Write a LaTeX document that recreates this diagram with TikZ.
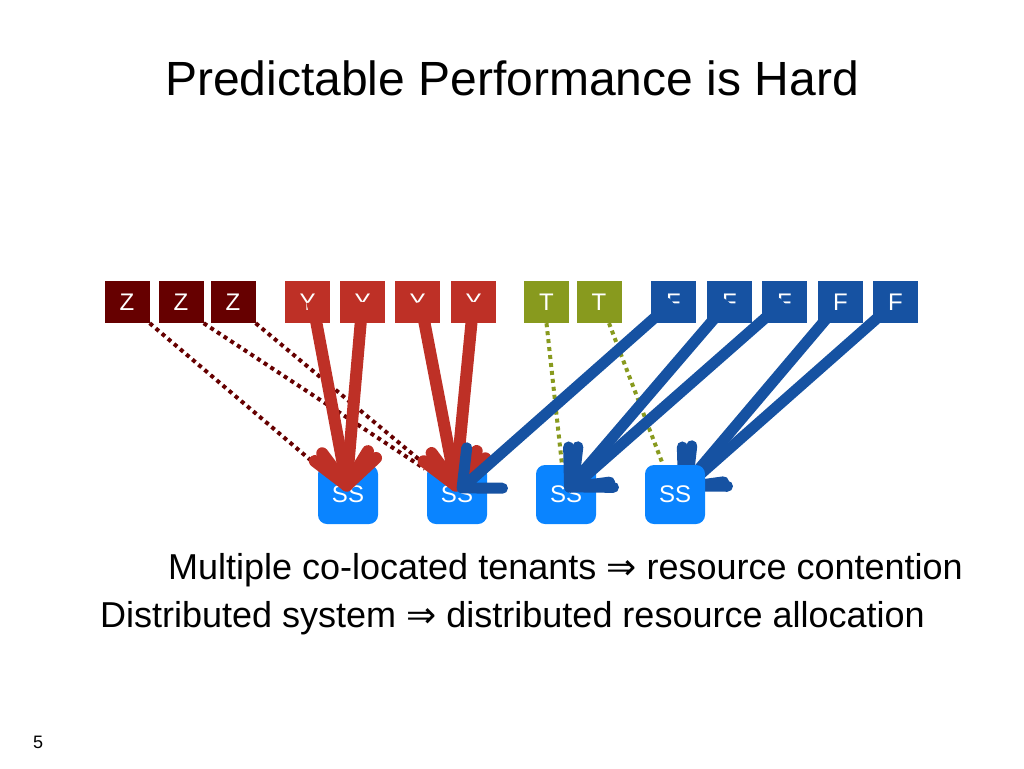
\documentclass[tikz,border=0pt]{standalone}
\usepackage{fontspec}
\setmainfont{Liberation Sans}
\newfontfamily\symf{DejaVu Sans}
\usetikzlibrary{arrows.meta}
\definecolor{zcol}{RGB}{102,0,0}
\definecolor{ycol}{RGB}{190,48,38}
\definecolor{tcol}{RGB}{136,154,30}
\definecolor{fcol}{RGB}{22,82,162}
\definecolor{sscol}{RGB}{10,132,255}
\pgfdeclarelayer{back}
\pgfsetlayers{back,main}
\begin{document}
\begin{tikzpicture}[x=1pt,y=-1pt,
  tenant/.style={minimum width=45pt,minimum height=42pt,inner sep=0pt,text=white,
    font=\fontsize{24}{24}\selectfont},
  server/.style={fill=sscol,rounded corners=9pt,minimum width=60pt,minimum height=59pt,
    inner sep=0pt,text=white,font=\fontsize{24}{24}\selectfont},
  fat/.style={line width=#1,-{Straight Barb[length=30pt,width=54pt,round]}},
  dots/.style={line width=4pt,dash pattern=on 4pt off 4pt},
  bullet/.style={anchor=base west,inner sep=0pt,font=\fontsize{36}{40}\selectfont}]
  \useasboundingbox (0,0) rectangle (1024,768);

  % Title
  \node (title) at (512,78) {\fontsize{48}{58}\selectfont Predictable Performance is Hard};

  % Tenants
  \node[tenant,fill=zcol] (z1) at (127,302) {Z};
  \node[tenant,fill=zcol] (z2) at (181,302) {Z};
  \node[tenant,fill=zcol] (z3) at (233,302) {Z};
  \node[tenant,fill=ycol] (y1) at (307.5,302) {Y};
  \node[tenant,fill=ycol] (y2) at (362.5,302) {Y};
  \node[tenant,fill=ycol] (y3) at (417.5,302) {Y};
  \node[tenant,fill=ycol] (y4) at (473.5,302) {Y};
  \node[tenant,fill=tcol] (t1) at (546.5,302) {T};
  \node[tenant,fill=tcol] (t2) at (599,302) {T};
  \node[tenant,fill=fcol] (f1) at (673.5,302) {F};
  \node[tenant,fill=fcol] (f2) at (729.5,302) {F};
  \node[tenant,fill=fcol] (f3) at (784.5,302) {F};
  \node[tenant,fill=fcol] (f4) at (840.5,302) {F};
  \node[tenant,fill=fcol] (f5) at (895.5,302) {F};

  % Storage servers
  \node[server] (ss1) at (348,494.5) {SS};
  \node[server] (ss2) at (457,494.5) {SS};
  \node[server] (ss3) at (566,494.5) {SS};
  \node[server] (ss4) at (675,494.5) {SS};

  % Light tenants (dotted)
  \draw[dots,zcol] (z1.south east) -- ([shift={(3,4)}]ss1.north west);
  \draw[dots,zcol] (z2.south east) -- ([shift={(-2,4)}]ss2.north west);
  \draw[dots,zcol] (z3.south east) -- ([shift={(1,2)}]ss2.north west);
  \draw[dots,tcol] (t1.south) -- ([shift={(-4,0)}]ss3.north);
  \draw[dots,tcol] ([xshift=10pt]t2.south) -- ([shift={(-12,0)}]ss4.north);

  % Heavy tenants
  \draw[fat=12pt,ycol] ([shift={(5,0)}]y1.center) -- ([shift={(0,-3)}]ss1.center);
  \draw[fat=12pt,ycol] ([shift={(0,0)}]y2.center) -- ([shift={(-2,-3)}]ss1.center);
  \draw[fat=12pt,ycol] ([shift={(3,0)}]y3.center) -- ([shift={(0,-3)}]ss2.center);
  \draw[fat=12pt,ycol] ([shift={(0,0)}]y4.center) -- ([shift={(-2,-3)}]ss2.center);
  \draw[fat=11pt,fcol] ([shift={(-1,0)}]f1.center) -- ([shift={(1,-3)}]ss2.center);
  \draw[fat=11pt,fcol] ([shift={(-1,0)}]f2.center) -- ([shift={(0,-3)}]ss3.center);
  \draw[fat=11pt,fcol] ([shift={(-1,0)}]f3.center) -- ([shift={(3,-4)}]ss3.center);
  \begin{pgfonlayer}{back}
    \draw[fat=11pt,fcol] (f4.center) -- ([shift={(5,-3)}]ss4.center);
    \draw[fat=11pt,fcol] (f5.center) -- ([shift={(8,-5)}]ss4.center);
  \end{pgfonlayer}

  % Bullets
  \node[bullet] (line1) at (168,579)
    {Multiple co-located tenants {\symf ⇒} resource contention};
  \node[bullet] (line2) at (100,627)
    {Distributed system {\symf ⇒} distributed resource allocation};

  % Slide number
  \node[anchor=base west,inner sep=0pt,font=\fontsize{18}{18}\selectfont] (num) at (33,748) {5};
\end{tikzpicture}
\end{document}
